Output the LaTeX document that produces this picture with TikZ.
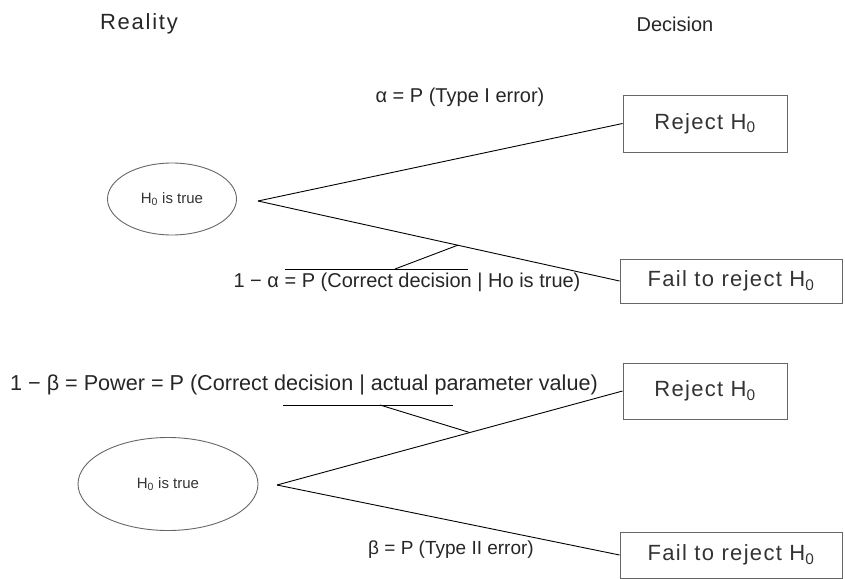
\documentclass[tikz,border=0pt]{standalone}
\usepackage{fontspec}
\setmainfont{Liberation Sans}
\usetikzlibrary{shapes.geometric,calc}
\begin{document}
\begin{tikzpicture}[x=1pt,y=-1pt,
  lbl/.style={inner sep=0pt, font=\fontsize{20}{24}\selectfont, text=black!85},
  ttl/.style={inner sep=0pt, font=\fontsize{21}{26}\selectfont, text=black!85},
  decbox/.style={draw=black!60, line width=0.9pt, inner sep=0pt, font=\fontsize{22}{26}\selectfont\addfontfeature{LetterSpace=6}, text=black!80},
  hyp/.style={draw=black!60, line width=0.9pt, ellipse, inner sep=0pt, font=\fontsize{15}{18}\selectfont, text=black!80},
  conn/.style={draw=black, line width=0.9pt}]
\useasboundingbox (0,0) rectangle (845,578);
\node[ttl, font=\fontsize{22}{26}\selectfont\addfontfeature{LetterSpace=8}] (reality) at (139,24) {Reality};
\node[ttl, font=\fontsize{20}{26}\selectfont] (decision) at (675,24) {Decision};
% top
\node[hyp, minimum width=129pt, minimum height=72pt] (h1) at (172,199) {H\textsubscript{0} is true};
\coordinate (a1) at (258,201);
\node[decbox, minimum width=164pt, minimum height=57pt] (r1) at (705,123.5) {Reject H\textsubscript{0}};
\node[decbox, minimum width=222pt, minimum height=44pt] (f1) at (731,281) {Fail to reject H\textsubscript{0}};
\draw[conn] (a1) -- (r1.west);
\draw[conn] (a1) -- (f1.west);
\node[lbl] (alab) at (460,97) {α = P (Type I error)};
\node[lbl] (clab) at (407,282) {1 − α = P (Correct decision | Ho is true)};
\coordinate (o1) at (285,269);
\coordinate (o2) at (468,269);
\coordinate (o3) at (395,269);
\draw[conn] (o1) -- (o2);
\draw[conn] (o3) -- ($(a1)!0.5525!(f1.west)$);
% bottom
\node[hyp, minimum width=180pt, minimum height=93pt] (h2) at (168,484) {H\textsubscript{0} is true};
\coordinate (a2) at (277,485);
\node[decbox, minimum width=164pt, minimum height=56pt] (r2) at (705,391) {Reject H\textsubscript{0}};
\node[decbox, minimum width=222pt, minimum height=46pt] (f2) at (731,555) {Fail to reject H\textsubscript{0}};
\draw[conn] (a2) -- (r2.west);
\draw[conn] (a2) -- (f2.west);
\node[lbl, font=\fontsize{21.6}{25}\selectfont] (plab) at (304,385) {1 − β = Power = P (Correct decision | actual parameter value)};
\coordinate (u1) at (283,405);
\coordinate (u2) at (453,405);
\coordinate (u3) at (380,405);
\draw[conn] (u1) -- (u2);
\draw[conn] (u3) -- ($(a2)!0.558!(r2.west)$);
\node[lbl, font=\fontsize{19}{23}\selectfont] (blab) at (451,550) {β = P (Type II error)};
\end{tikzpicture}
\end{document}
